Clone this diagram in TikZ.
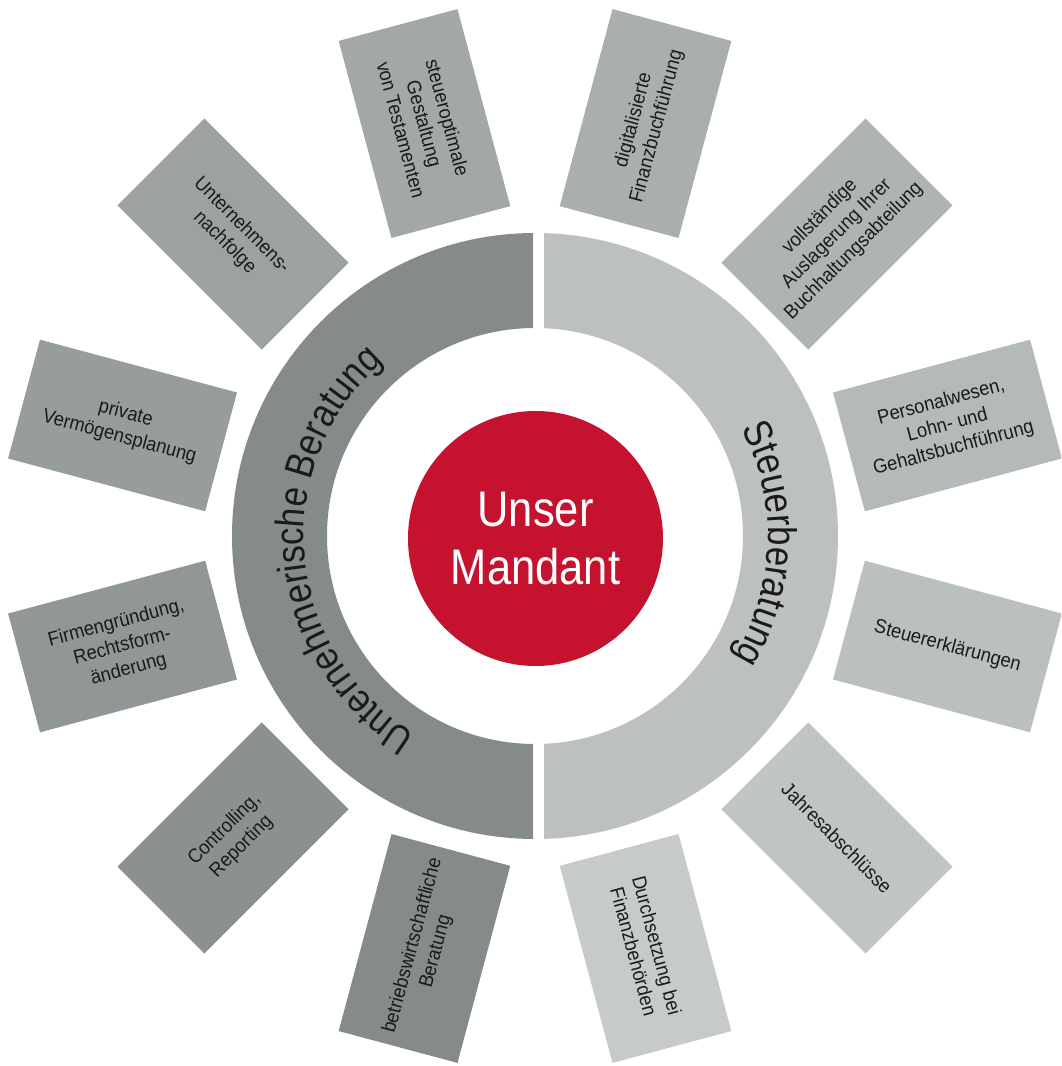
\documentclass[tikz,border=0pt]{standalone}
\usepackage{fontspec}
\setmainfont{Liberation Sans}
\newfontfamily\narrowfont{Liberation Sans}[FakeStretch=0.87]
\newfontfamily\tilefont{Liberation Sans}[FakeStretch=0.93]
\usetikzlibrary{decorations.text}

\definecolor{ringdark}{RGB}{133,140,135}
\definecolor{ringlight}{RGB}{188,193,190}
\definecolor{tilelight}{RGB}{198,203,200}
\definecolor{mandantred}{RGB}{196,18,47}
\definecolor{inktext}{RGB}{26,26,26}

\newcommand\arcfont{\narrowfont\fontsize{30}{30}\selectfont}

\begin{document}
\begin{tikzpicture}[x=0.75pt, y=0.75pt,
  tile/.style={rectangle, inner sep=0pt, minimum width=153pt, minimum height=92.25pt,
    align=center, text=inktext, font=\tilefont\fontsize{14.8}{18}\selectfont},
  core/.style={circle, inner sep=0pt, minimum size=191.25pt, fill=mandantred,
    text=white, align=center, font=\narrowfont\fontsize{37.5}{43}\selectfont},
  arclabel/.style={decorate, decoration={text along path, text align=center,
    text color=inktext, text={|\arcfont|#1}}}
]
\useasboundingbox (-535,-530) rectangle (526,536);
\clip (-535,-530) rectangle (526,536);

% left half of the ring
\begin{scope}
  \clip (-400,-400) rectangle (-2,400);
  \fill[ringdark, even odd rule] (0,0) circle[radius=303] (0,0) circle[radius=208];
\end{scope}
% right half of the ring
\begin{scope}
  \clip (9,-400) rectangle (400,400);
  \fill[ringlight, even odd rule] (0,0) circle[radius=303] (0,0) circle[radius=208];
\end{scope}

% labels running along the two halves
\path[arclabel={Unternehmerische Beratung}] (256:231) arc[start angle=256, end angle=114, radius=231];
\path[arclabel={Steuerberatung}] (88:233) arc[start angle=88, end angle=-92, radius=233];

% centre
\node[core] (mandant) at (0.5,-2.5) {Unser\\Mandant};

% service tiles around the ring
\foreach \ang/\rot/\pct/\txt [count=\i] in {
  255/75/0/{betriebswirtschaftliche\\Beratung},
  225/45/9/{Controlling,\\Reporting},
  195/15/18/{Firmengründung,\\Rechtsform-\\änderung},
  165/-15/27/{private\\Vermögensplanung},
  135/-45/36/{Unternehmens-\\nachfolge},
  105/-75/45/{steueroptimale\\Gestaltung\\von Testamenten},
  75/75/55/{digitalisierte\\Finanzbuchführung},
  45/45/64/{vollständige\\Auslagerung Ihrer\\Buchhaltungsabteilung},
  15/15/73/{Personalwesen,\\Lohn- und\\Gehaltsbuchführung},
  -15/-15/82/{Steuererklärungen},
  -45/-45/91/{Jahresabschlüsse},
  -75/-75/100/{Durchsetzung bei\\Finanzbehörden}}
{
  \node[tile, fill=tilelight!\pct!ringdark, rotate=\rot] (tile\i) at (\ang:427) {\txt};
}
\end{tikzpicture}
\end{document}
